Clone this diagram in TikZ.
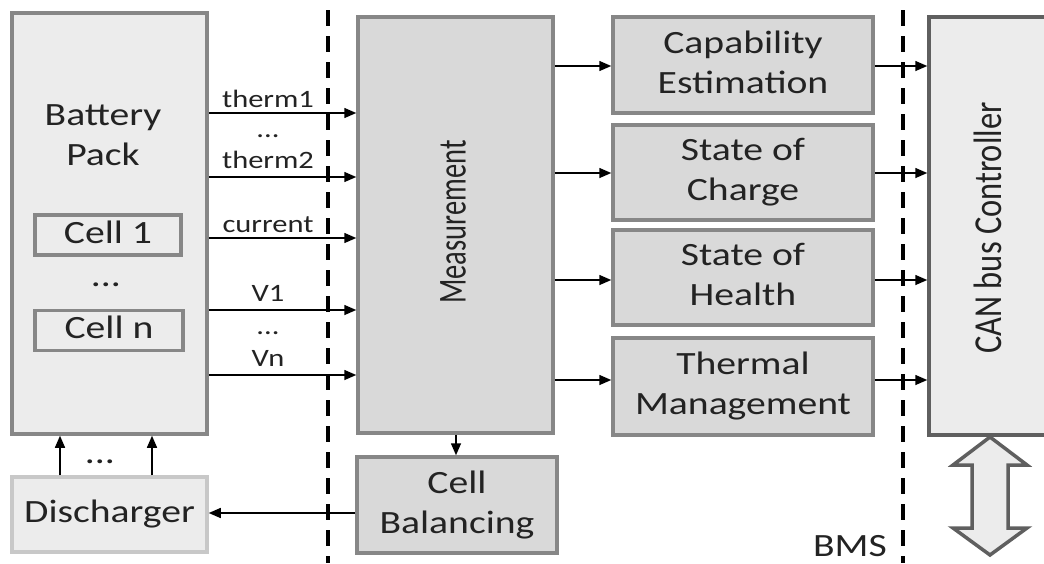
\documentclass[tikz,border=0pt]{standalone}
\usepackage{fontspec}
\setmainfont{Carlito}
\usepackage{graphicx}
\usetikzlibrary{arrows.meta}
\definecolor{lightfill}{RGB}{236,236,236}
\definecolor{midfill}{RGB}{217,217,217}
\definecolor{bordgray}{RGB}{135,135,135}
\definecolor{darkbord}{RGB}{95,95,95}
\definecolor{paleborder}{RGB}{200,200,200}
\definecolor{txtcol}{RGB}{35,35,35}
\newcommand\bigf{\fontsize{32.5}{40}\selectfont}
\newcommand\measf{\fontsize{28.5}{34}\selectfont}
\newcommand\smallf{\fontsize{25}{30}\selectfont}
\newcommand\sx[1]{\scalebox{1.22}[1]{#1}}
\newcommand\tx[1]{\scalebox{1.22}[1]{\begin{tabular}{@{}c@{}}#1\end{tabular}}}
\newcommand\vtx[1]{\scalebox{1}[1.22]{#1}}
\newcommand\vtxm[1]{\scalebox{1}[1.39]{#1}}
\tikzset{
  boxbase/.style={rectangle, inner sep=0pt, text=txtcol, font=\bigf},
  lightbox/.style={boxbase, draw=bordgray, fill=lightfill, line width=3.5pt},
  midbox/.style={boxbase, draw=bordgray, fill=midfill, line width=3.5pt},
  palebox/.style={boxbase, draw=paleborder, fill=lightfill, line width=3.5pt},
  canbox/.style={boxbase, draw=darkbord, fill=lightfill, line width=3.5pt},
  txt/.style={inner sep=0pt, text=txtcol, font=\bigf},
  lbl/.style={inner sep=0pt, text=txtcol, font=\smallf, anchor=base},
  conn/.style={line width=1.5pt, -{Triangle[length=12pt,width=10pt]}},
  divider/.style={line width=4pt, dash pattern=on 16pt off 10pt},
}
\begin{document}
\begin{tikzpicture}[x=1pt,y=-1pt]
\useasboundingbox (0,0) rectangle (1044,563);
\clip (0,0) rectangle (1044,563);
% dashed separators
\coordinate (d1t) at (328,10);
\coordinate (d1b) at (328,563);
\coordinate (d2t) at (903,10);
\coordinate (d2b) at (903,563);
\draw[divider] (d1t) -- (d1b);
\draw[divider] (d2t) -- (d2b);
% battery pack
\node[lightbox, minimum width=195pt, minimum height=421pt] (bat) at (109.5,223.5) {};
\node[txt] (battxt) at (103,137) {\tx{Battery\\Pack}};
\node[lightbox, minimum width=146pt, minimum height=36pt] (cell1) at (108,235) {\tx{Cell 1}};
\node[txt, anchor=base] (celldots) at (106,286) {\sx{...}};
\node[lightbox, minimum width=148pt, minimum height=37pt] (celln) at (109,330.5) {\tx{Cell n}};
% discharger
\node[palebox, minimum width=195pt, minimum height=75pt] (dis) at (109.5,514.5) {\tx{Discharger}};
% measurement
\node[midbox, minimum width=195pt, minimum height=416pt] (meas) at (455.5,225) {};
\node[txt, font=\measf, rotate=90] (meastxt) at (453,222) {\vtxm{Measurement}};
% cell balancing
\node[midbox, minimum width=200pt, minimum height=96pt] (cb) at (457,505) {\tx{Cell\\Balancing}};
% right boxes
\node[midbox, minimum width=260pt, minimum height=96pt] (cap) at (743,65) {\tx{Capability\\Estimation}};
\node[midbox, minimum width=260pt, minimum height=95pt] (soc) at (743,172.5) {\tx{State of\\Charge}};
\node[midbox, minimum width=260pt, minimum height=95pt] (soh) at (743,277.5) {\tx{State of\\Health}};
\node[midbox, minimum width=260pt, minimum height=97pt] (thm) at (743,386.5) {\tx{Thermal\\Management}};
% CAN bus controller
\node[canbox, minimum width=118pt, minimum height=418pt] (can) at (988,226) {};
\node[txt, rotate=90] (cantxt) at (988,228) {\vtx{CAN bus Controller}};
% double arrow
\draw[fill=lightfill, draw=darkbord, line width=3.5pt, line join=miter]
  (990,437) -- (1027,465) -- (1008,465) -- (1008,528) -- (1027,528) -- (990,555)
  -- (953,528) -- (972,528) -- (972,465) -- (953,465) -- cycle;
% signal labels
\node[lbl] (l1) at (268,107) {\sx{therm1}};
\node[lbl] (l2) at (268,137) {\sx{...}};
\node[lbl] (l3) at (268,168) {\sx{therm2}};
\node[lbl] (l4) at (268,232) {\sx{current}};
\node[lbl] (l5) at (268,301) {\sx{V1}};
\node[lbl] (l6) at (268,334) {\sx{...}};
\node[lbl] (l7) at (268,366) {\sx{Vn}};
% battery -> measurement
\draw[conn] (bat.east |- 0,113) -- (meas.west |- 0,113);
\draw[conn] (bat.east |- 0,177) -- (meas.west |- 0,177);
\draw[conn] (bat.east |- 0,238) -- (meas.west |- 0,238);
\draw[conn] (bat.east |- 0,310) -- (meas.west |- 0,310);
\draw[conn] (bat.east |- 0,375) -- (meas.west |- 0,375);
% measurement -> estimators
\draw[conn] (meas.east |- 0,66) -- (cap.west |- 0,66);
\draw[conn] (meas.east |- 0,173) -- (soc.west |- 0,173);
\draw[conn] (meas.east |- 0,280) -- (soh.west |- 0,280);
\draw[conn] (meas.east |- 0,380) -- (thm.west |- 0,380);
% estimators -> CAN
\draw[conn] (cap.east |- 0,66) -- (can.west |- 0,66);
\draw[conn] (soc.east |- 0,173) -- (can.west |- 0,173);
\draw[conn] (soh.east |- 0,280) -- (can.west |- 0,280);
\draw[conn] (thm.east |- 0,380) -- (can.west |- 0,380);
% measurement -> cell balancing
\draw[conn] (meas.south -| 456,0) -- (cb.north -| 456,0);
% cell balancing -> discharger
\draw[conn] (cb.west |- 0,513) -- (dis.east |- 0,513);
% discharger -> battery
\draw[conn] (dis.north -| 60,0) -- (bat.south -| 60,0);
\draw[conn] (dis.north -| 152,0) -- (bat.south -| 152,0);
\node[txt, anchor=base] (disdots) at (100,463) {\sx{...}};
% BMS label
\node[txt, anchor=base] (bms) at (850,556) {\sx{BMS}};
\end{tikzpicture}
\end{document}
